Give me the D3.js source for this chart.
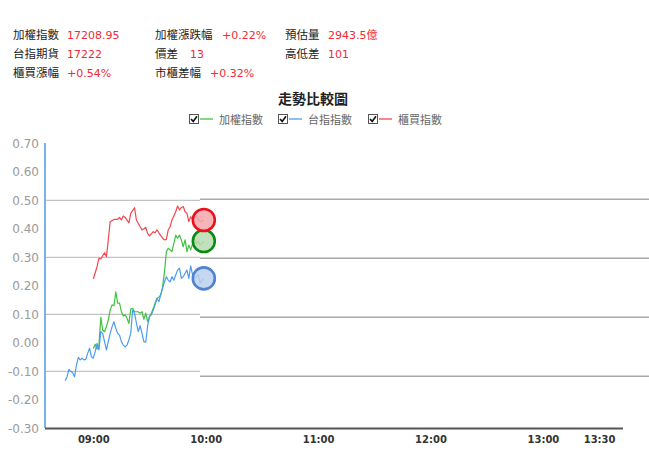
<!DOCTYPE html>
<html><head><meta charset="utf-8">
<script src="https://cdn.jsdelivr.net/npm/d3@7"></script>
<style>body{margin:0;background:#fff;} svg{display:block;}</style>
</head><body>
<svg id="c" width="649" height="466"></svg>
<script>
// ---- data ----
const infoLabels = [["加權指數","台指期貨","櫃買漲幅"],["加權漲跌幅","價差","市櫃差幅"],["預估量","高低差"]];
const infoValues = [["17208.95","17222","+0.54%"],["+0.22%","13","+0.32%"],["2943.5億","101"]];
const chartTitle = "走勢比較圖";
const seriesNames = ["加權指數","台指指數","櫃買指數"];
const yTicks = [0.7,0.6,0.5,0.4,0.3,0.2,0.1,0,-0.1,-0.2,-0.3];
const gridTicks = [0.5,0.3,0.1,-0.1];
const xTickLabels = ["09:00","10:00","11:00","12:00","13:00","13:30"];

const taiexTimes = ["09:00","09:01","09:02","09:03","09:04","09:05","09:06","09:07","09:08","09:09","09:10","09:11","09:12","09:13","09:14","09:15","09:16","09:17","09:18","09:19","09:20","09:21","09:22","09:23","09:24","09:25","09:26","09:27","09:28","09:29","09:30","09:31","09:32","09:33","09:34","09:35","09:36","09:37","09:38","09:39","09:40","09:41","09:42","09:43","09:44","09:45","09:46","09:47","09:48","09:49","09:50","09:51","09:52","09:53","09:54","09:55","09:56","09:57","09:59"];
const taiexValues = [-0.020,-0.005,-0.022,-0.010,0.089,0.045,0.039,0.056,0.080,0.115,0.133,0.130,0.179,0.139,0.139,0.109,0.094,0.098,0.086,0.068,0.118,0.121,0.109,0.109,0.109,0.104,0.109,0.082,0.104,0.074,0.092,0.104,0.120,0.140,0.156,0.160,0.168,0.197,0.249,0.320,0.332,0.326,0.320,0.349,0.378,0.367,0.378,0.361,0.337,0.361,0.320,0.343,0.326,0.349,0.367,0.349,0.355,0.343,0.357];

const futTimes = ["08:45","08:46","08:47","08:48","08:49","08:50","08:51","08:52","08:53","08:54","08:55","08:56","08:57","08:58","08:59","09:00","09:01","09:02","09:03","09:04","09:05","09:06","09:07","09:09","09:10","09:11","09:12","09:13","09:14","09:15","09:16","09:17","09:18","09:19","09:20","09:21","09:22","09:23","09:24","09:25","09:26","09:27","09:28","09:29","09:30","09:31","09:32","09:33","09:34","09:35","09:36","09:37","09:38","09:39","09:40","09:41","09:42","09:43","09:44","09:45","09:46","09:47","09:48","09:49","09:50","09:51","09:52","09:53","09:54","09:55","09:56","09:57","09:59"];
const futValues = [-0.133,-0.119,-0.093,-0.101,-0.105,-0.119,-0.078,-0.051,-0.060,-0.054,-0.060,-0.058,-0.037,-0.019,-0.049,-0.054,-0.031,-0.002,-0.025,0.039,0.033,0.004,-0.025,0.033,0.056,0.074,0.051,0.033,0.027,0.004,-0.008,-0.014,-0.008,0.010,0.033,0.115,0.104,0.070,0.039,0.060,0.033,0.004,0.002,0.060,0.092,0.098,0.115,0.133,0.156,0.144,0.168,0.191,0.214,0.232,0.220,0.214,0.232,0.220,0.238,0.255,0.262,0.226,0.232,0.244,0.255,0.226,0.270,0.238,0.226,0.232,0.240,0.209,0.226];

const otcTimes = ["09:00","09:02","09:03","09:04","09:06","09:07","09:08","09:09","09:11","09:13","09:14","09:15","09:16","09:17","09:19","09:20","09:22","09:23","09:25","09:26","09:28","09:29","09:30","09:32","09:33","09:34","09:35","09:37","09:38","09:39","09:40","09:41","09:42","09:44","09:45","09:46","09:47","09:48","09:49","09:50","09:51","09:52","09:53","09:55","09:56","09:57","09:59"];
const otcValues = [0.224,0.267,0.296,0.294,0.316,0.302,0.361,0.425,0.433,0.433,0.440,0.431,0.445,0.440,0.421,0.454,0.474,0.431,0.407,0.396,0.405,0.384,0.375,0.390,0.386,0.396,0.386,0.367,0.361,0.363,0.396,0.407,0.431,0.460,0.480,0.466,0.475,0.478,0.460,0.454,0.425,0.442,0.433,0.445,0.433,0.425,0.431];

const seriesColors = ["#3fc23f","#4a9cf0","#f0474c"];
const markerStroke = ["#0d8a12","#4f83d2","#e8121a"];
const markerFill = ["#b6dcb2","#bcd0ee","#f5a7ab"];

// ---- drawing ----
const svg = d3.select("#c");
const parse = d3.timeParse("%H:%M");
const x = d3.scaleTime().domain([parse("08:45"), parse("13:45")]).range([65.2, 627.2]);
const y = d3.scaleLinear().domain([-0.3, 0.7]).range([428.3, 143.3]);
const yR = d3.scaleLinear().domain([-0.1, 0.5]).range([376.2, 199.2]);

const cjk = "'Noto Sans CJK TC','Noto Sans CJK SC',sans-serif";
const num = "'DejaVu Sans',Verdana,sans-serif";

// info block
const colLabelX = [13, 155, 285];
const colValueX = [67, 222, 328];
const valueXOverride = {"1_1":190, "1_2":210};
const rowY = [39, 58, 77];
infoLabels.forEach((col, ci) => col.forEach((lab, ri) => {
  svg.append("text").attr("x", colLabelX[ci]).attr("y", rowY[ri]).text(lab)
    .attr("font-family", cjk).attr("font-size", 11.5).attr("fill", "#222");
  const vx = valueXOverride[ci + "_" + ri] || colValueX[ci];
  svg.append("text").attr("x", vx).attr("y", rowY[ri]).text(infoValues[ci][ri])
    .attr("font-family", num + "," + cjk).attr("font-size", 11).attr("fill", "#f02b35");
}));

// title
svg.append("text").attr("x", 313).attr("y", 104).attr("text-anchor", "middle").text(chartTitle)
  .attr("font-family", cjk).attr("font-size", 14).attr("font-weight", "bold").attr("fill", "#222");

// legend
const legX = [189, 278, 368];
seriesNames.forEach((n, i) => {
  const g = svg.append("g").attr("transform", `translate(${legX[i]},114)`);
  g.append("rect").attr("x", 0.5).attr("y", 0.5).attr("width", 9).attr("height", 9)
    .attr("fill", "#fff").attr("stroke", "#555").attr("stroke-width", 1);
  g.append("path").attr("d", "M2,5 L4.2,7.4 L8,2.2").attr("fill", "none")
    .attr("stroke", "#111").attr("stroke-width", 1.6);
  g.append("line").attr("x1", 11).attr("x2", 24).attr("y1", 5).attr("y2", 5)
    .attr("stroke", seriesColors[i]).attr("stroke-width", 1.3);
  g.append("text").attr("x", 30).attr("y", 9.5).text(n)
    .attr("font-family", cjk).attr("font-size", 11).attr("fill", "#666");
});

// grid lines (left and right segments)
svg.append("g").selectAll("line").data(gridTicks).join("line")
  .attr("x1", 45).attr("x2", 200).attr("y1", d => y(d)).attr("y2", d => y(d))
  .attr("stroke", "#b4b4b4").attr("stroke-width", 1);
svg.append("g").selectAll("line").data(gridTicks).join("line")
  .attr("x1", 200).attr("x2", 649).attr("y1", d => yR(d)).attr("y2", d => yR(d))
  .attr("stroke", "#a8a8a8").attr("stroke-width", 1.4);

// y axis
const yAxis = svg.append("g").attr("transform", "translate(45,0)")
  .call(d3.axisLeft(y).tickValues(yTicks).tickSize(0).tickPadding(6).tickFormat(d => d.toFixed(2)));
yAxis.select(".domain").remove();
yAxis.selectAll("text").attr("font-family", num).attr("font-size", 12).attr("fill", "#9a9a9a");
svg.append("line").attr("x1", 45).attr("x2", 45).attr("y1", 143).attr("y2", 428)
  .attr("stroke", "#76b4ee").attr("stroke-width", 2);

// x axis
const xAxis = svg.append("g").attr("transform", "translate(0,428)")
  .call(d3.axisBottom(x).tickValues(xTickLabels.map(parse)).tickSize(0).tickPadding(8)
    .tickFormat(d3.timeFormat("%H:%M")));
xAxis.select(".domain").remove();
xAxis.selectAll("text").attr("font-family", num).attr("font-size", 10).attr("font-weight", "bold").attr("fill", "#333");
svg.append("line").attr("x1", 45).attr("x2", 623).attr("y1", 428.5).attr("y2", 428.5)
  .attr("stroke", "#555").attr("stroke-width", 2);

// series
const series = [
  {t: taiexTimes, v: taiexValues},
  {t: futTimes, v: futValues},
  {t: otcTimes, v: otcValues}
];
const line = d3.line().x(d => x(d[0])).y(d => y(d[1]));
const drawOrder = [2, 0, 1];
drawOrder.forEach(i => {
  const pts = series[i].t.map((t, k) => [parse(t), series[i].v[k]]);
  svg.append("path").datum(pts).attr("d", line).attr("fill", "none")
    .attr("stroke", seriesColors[i]).attr("stroke-width", 1.2).attr("stroke-linejoin", "round");
});
series.forEach((s, i) => {
  const k = s.t.length - 1;
  svg.append("circle").attr("cx", x(parse(s.t[k]))).attr("cy", y(s.v[k])).attr("r", 11)
    .attr("fill", markerFill[i]).attr("fill-opacity", 0.85)
    .attr("stroke", markerStroke[i]).attr("stroke-width", 2.6);
});
</script>
</body></html>
